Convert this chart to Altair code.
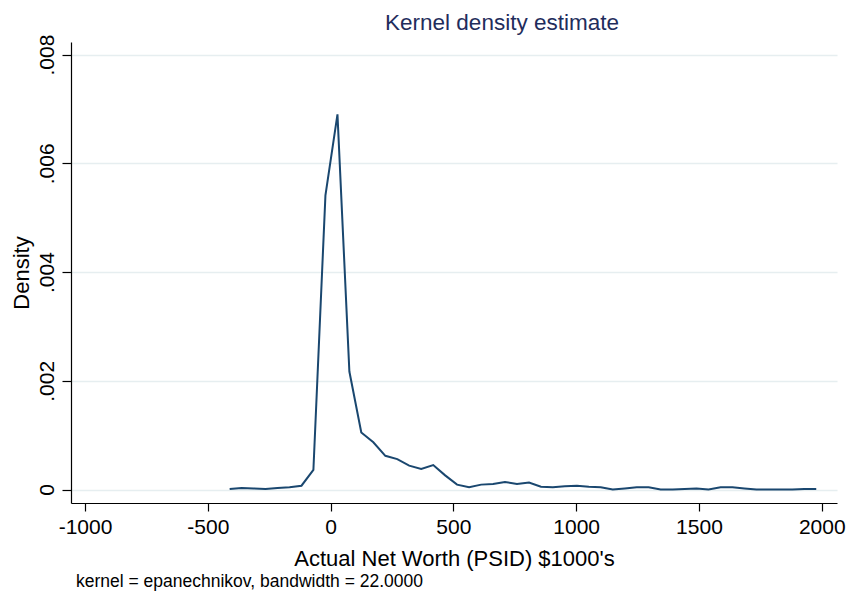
import altair as alt
import pandas as pd

# Evaluation points (Actual Net Worth, $1000's)
net_worth = [-411, -362, -314, -265, -216, -167, -118.5, -70, -21, 28,
             76.5, 125, 174, 223, 271.5, 320, 369, 418, 466.5, 515,
             564, 613, 661.5, 710, 759, 808, 856.5, 905, 954, 1003,
             1051.5, 1100, 1149, 1198, 1246.5, 1295, 1344, 1393, 1441.5, 1490,
             1539, 1588, 1636.5, 1685, 1734, 1783, 1831.5, 1880, 1929, 1977.5]

# Estimated density at each point
density = [0.00001, 0.00003, 0.00002, 0.00001, 0.00003, 0.00004, 0.00007, 0.00036, 0.00541, 0.00690,
           0.00217, 0.00105, 0.00087, 0.00062, 0.00056, 0.00044, 0.00038, 0.00045, 0.00026, 0.00009,
           0.00004, 0.00009, 0.00010, 0.00014, 0.00010, 0.00013, 0.00005, 0.00004, 0.00006, 0.00007,
           0.00005, 0.00004, 0.00000, 0.00002, 0.00004, 0.00004, 0.00000, 0.00000, 0.00001, 0.00002,
           0.00000, 0.00004, 0.00004, 0.00002, 0.00000, 0.00000, 0.00000, 0.00000, 0.00001, 0.00001]

x_ticks = [-1000, -500, 0, 500, 1000, 1500, 2000]
y_ticks = [0, 0.002, 0.004, 0.006, 0.008]

title_text = "Kernel density estimate"
x_title = "Actual Net Worth (PSID) $1000's"
y_title = "Density"
note_text = "kernel = epanechnikov, bandwidth = 22.0000"

df = pd.DataFrame({"x": net_worth, "y": density})

FONT = "Liberation Sans"
W, H = 766, 461

line = alt.Chart(df).mark_line(color="#1a476f", strokeWidth=2).encode(
    x=alt.X("x:Q",
            scale=alt.Scale(domain=[-1057, 2062], nice=False, zero=False),
            axis=alt.Axis(values=x_ticks, labelExpr="toString(datum.value)", title=x_title,
                          grid=False, tickSize=8, labelPadding=5,
                          labelFontSize=21, titleFontSize=22, titlePadding=11,
                          titleFontWeight="normal",
                          labelFlush=False, labelOverlap=False)),
    y=alt.Y("y:Q",
            scale=alt.Scale(domain=[-0.000248, 0.008231], nice=False, zero=False),
            axis=alt.Axis(values=y_ticks, title=y_title,
                          labelExpr="datum.value == 0 ? '0' : substring(format(datum.value, '.3f'), 1)",
                          grid=True, gridColor="#e6eef0", gridWidth=1.3,
                          tickSize=9, labelPadding=5, labelAngle=270,
                          labelAlign="center", labelBaseline="bottom",
                          labelFontSize=21, titleFontSize=22, titlePadding=3,
                          titleFontWeight="normal",
                          labelFlush=False, labelOverlap=False)),
)

note_df = pd.DataFrame({"t": [note_text]})
note = alt.Chart(note_df).mark_text(
    align="left", baseline="alphabetic", fontSize=17.5, font=FONT, color="black"
).encode(
    text="t:N",
    x=alt.value(5),
    y=alt.value(545),
)

chart = alt.layer(line, note).properties(
    width=W, height=H,
    background="white",
    title=alt.TitleParams(title_text, fontSize=22.5, font=FONT, color="#1f2d5c",
                          fontWeight="normal", anchor="middle", frame="group",
                          offset=0, dx=48),
    autosize=alt.AutoSizeParams(type="none"),
    padding={"left": 71, "top": 42, "right": 13, "bottom": 92},
).configure_view(strokeWidth=0, stroke="transparent").configure_axis(
    labelFont=FONT, titleFont=FONT, labelColor="black", titleColor="black",
    titleFontWeight="normal", domainColor="black", tickColor="black",
    domainWidth=1.2, tickWidth=1.2
)

chart.save("out.html", embed_options={"renderer": "svg", "actions": False})
